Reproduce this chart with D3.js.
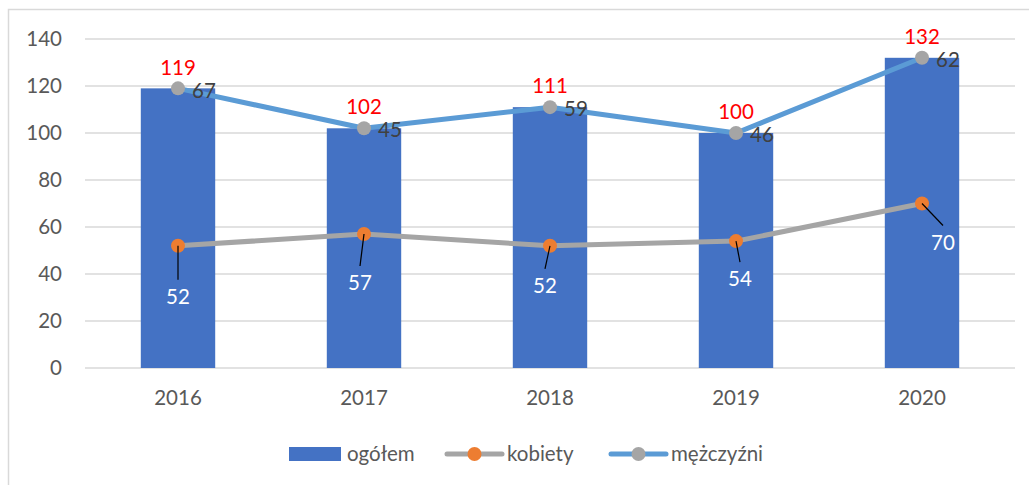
<!DOCTYPE html>
<html>
<head>
<meta charset="utf-8">
<script src="https://cdn.jsdelivr.net/npm/d3@7"></script>
<style>
  body { margin: 0; background: #fff; }
  text { font-family: Lato, "Open Sans", sans-serif; }
</style>
</head>
<body>
<svg id="chart" width="1029" height="485"></svg>
<script>
const years = ["2016", "2017", "2018", "2019", "2020"];
const ogolem = [119, 102, 111, 100, 132];
const kobiety = [52, 57, 52, 54, 70];
const mezczyzni = [67, 45, 59, 46, 62];
const yTicks = [0, 20, 40, 60, 80, 100, 120, 140];

// przesunięcia etykiet kobiet (ręcznie ustawione jak w oryginale)
const kobLabelShift = [[0, 51], [-4, 49], [-5, 40], [4, 38], [21, 39]];

const svg = d3.select("#chart");
const width = +svg.attr("width");
const height = +svg.attr("height");
const margin = { top: 39, right: 14, bottom: 117, left: 85 };
const fs = 20.5;

// ramka
svg.append("rect")
  .attr("x", 8.5).attr("y", 9.5)
  .attr("width", width).attr("height", height)
  .attr("fill", "none").attr("stroke", "#d9d9d9").attr("stroke-width", 1.5);

const x = d3.scaleBand().domain(years)
  .range([margin.left, width - margin.right]).paddingInner(0.6).paddingOuter(0.3);
const y = d3.scaleLinear().domain([0, 140]).range([height - margin.bottom, margin.top]);
const cx = (i) => x(years[i]) + x.bandwidth() / 2;

// siatka
svg.append("g").selectAll("line").data(yTicks).enter().append("line")
  .attr("x1", margin.left).attr("x2", width - margin.right)
  .attr("y1", (d) => y(d)).attr("y2", (d) => y(d))
  .attr("stroke", "#d9d9d9").attr("stroke-width", 1.5);

// oś Y
const yAxis = svg.append("g")
  .attr("transform", "translate(" + (margin.left - 23) + ",0)")
  .call(d3.axisLeft(y).tickValues(yTicks).tickSize(0).tickPadding(0));
yAxis.select(".domain").remove();
yAxis.selectAll("text").attr("font-size", fs).attr("fill", "#595959")
  .attr("font-family", "Lato, sans-serif");

// oś X
const xAxis = svg.append("g")
  .attr("transform", "translate(0," + (height - margin.bottom) + ")")
  .call(d3.axisBottom(x).tickSize(0).tickPadding(22));
xAxis.select(".domain").remove();
xAxis.selectAll("text").attr("font-size", fs).attr("fill", "#595959")
  .attr("font-family", "Lato, sans-serif");

// słupki
svg.append("g").selectAll("rect").data(ogolem).enter().append("rect")
  .attr("x", (d, i) => x(years[i]))
  .attr("y", (d) => y(d))
  .attr("width", x.bandwidth())
  .attr("height", (d) => y(0) - y(d))
  .attr("fill", "#4472c4");

// linia kobiet
const line = d3.line().x((d, i) => cx(i)).y((d) => y(d));
svg.append("path").datum(kobiety)
  .attr("d", line).attr("fill", "none")
  .attr("stroke", "#a5a5a5").attr("stroke-width", 5).attr("stroke-linejoin", "round");

// linia mężczyzn (skumulowana)
const stacked = mezczyzni.map((d, i) => d + kobiety[i]);
svg.append("path").datum(stacked)
  .attr("d", line).attr("fill", "none")
  .attr("stroke", "#5b9bd5").attr("stroke-width", 5).attr("stroke-linejoin", "round");

// znaczniki
svg.append("g").selectAll("circle").data(kobiety).enter().append("circle")
  .attr("cx", (d, i) => cx(i)).attr("cy", (d) => y(d)).attr("r", 7)
  .attr("fill", "#ed7d31");
svg.append("g").selectAll("circle").data(stacked).enter().append("circle")
  .attr("cx", (d, i) => cx(i)).attr("cy", (d) => y(d)).attr("r", 7)
  .attr("fill", "#a5a5a5");

// linie odniesienia i etykiety kobiet
svg.append("g").selectAll("line").data(kobiety).enter().append("line")
  .attr("x1", (d, i) => cx(i)).attr("y1", (d) => y(d))
  .attr("x2", (d, i) => cx(i) + kobLabelShift[i][0])
  .attr("y2", (d, i) => y(d) + kobLabelShift[i][1] - 17)
  .attr("stroke", "#000").attr("stroke-width", 1.2);
svg.append("g").selectAll("text").data(kobiety).enter().append("text")
  .attr("x", (d, i) => cx(i) + kobLabelShift[i][0])
  .attr("y", (d, i) => y(d) + kobLabelShift[i][1])
  .attr("dy", "0.35em").attr("text-anchor", "middle")
  .attr("font-size", fs).attr("fill", "#fff")
  .text((d) => d);

// etykiety ogółem (czerwone)
svg.append("g").selectAll("text").data(ogolem).enter().append("text")
  .attr("x", (d, i) => cx(i)).attr("y", (d) => y(d) - 21)
  .attr("dy", "0.35em").attr("text-anchor", "middle")
  .attr("font-size", fs).attr("fill", "#ff0000")
  .text((d) => d);

// etykiety mężczyzn
svg.append("g").selectAll("text").data(mezczyzni).enter().append("text")
  .attr("x", (d, i) => cx(i) + 14).attr("y", (d, i) => y(stacked[i]) + 2)
  .attr("dy", "0.35em")
  .attr("font-size", fs).attr("fill", "#404040")
  .text((d) => d);

// legenda
const legend = svg.append("g").attr("transform", "translate(0,454)");
legend.append("rect").attr("x", 289).attr("y", -7).attr("width", 52).attr("height", 14)
  .attr("fill", "#4472c4");
legend.append("text").attr("x", 347).attr("dy", "0.35em")
  .attr("font-size", fs).attr("fill", "#595959").text("ogółem");

const lineItems = [
  { x: 447, name: "kobiety", stroke: "#a5a5a5", marker: "#ed7d31" },
  { x: 611, name: "mężczyźni", stroke: "#5b9bd5", marker: "#a5a5a5" }
];
const items = legend.selectAll("g.item").data(lineItems).enter().append("g").attr("class", "item");
items.append("line").attr("x1", (d) => d.x).attr("x2", (d) => d.x + 55)
  .attr("stroke", (d) => d.stroke).attr("stroke-width", 5).attr("stroke-linecap", "round");
items.append("circle").attr("cx", (d) => d.x + 27.5).attr("r", 7).attr("fill", (d) => d.marker);
items.append("text").attr("x", (d) => d.x + 60).attr("dy", "0.35em")
  .attr("font-size", fs).attr("fill", "#595959").text((d) => d.name);
</script>
</body>
</html>
